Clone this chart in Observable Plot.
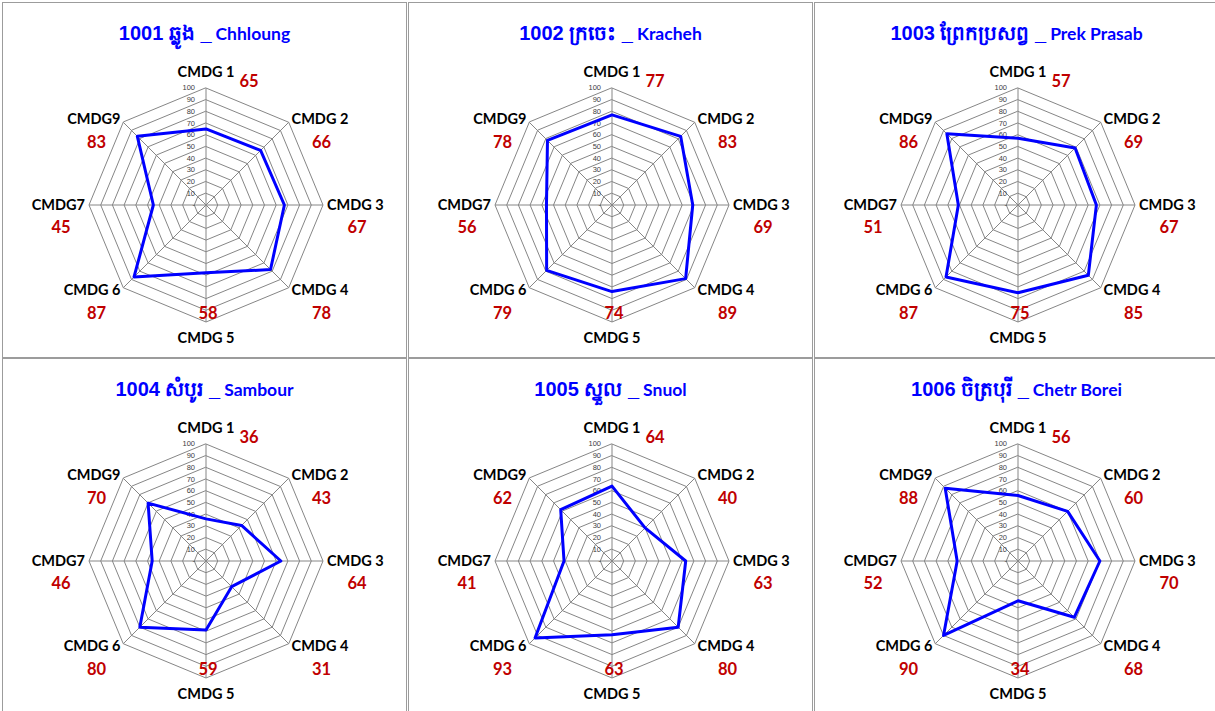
<!DOCTYPE html>
<html><head><meta charset="utf-8">
<script src="https://cdn.jsdelivr.net/npm/d3@7"></script>
<script src="https://cdn.jsdelivr.net/npm/@observablehq/plot@0.6"></script>
<style>
html,body{margin:0;padding:0;background:#fff;width:1215px;height:711px;overflow:hidden;position:relative;}
.panel{position:absolute;box-sizing:border-box;width:405px;height:356px;border:1px solid #9c9c9c;background:#fff;overflow:hidden;}
.title{position:absolute;left:0;right:0;top:19px;line-height:22px;text-align:center;color:#0000ff;font-weight:bold;white-space:nowrap;z-index:2;}
.title .k{font-family:"Liberation Sans",Arial,sans-serif;font-size:20px;}
.title .e{font-family:Lato,"Open Sans",sans-serif;font-size:17.5px;}
.panel svg{position:absolute;left:0;top:0;}
</style></head><body>
<script>
// ---- data ----
const axisNames = ["CMDG 1","CMDG 2","CMDG 3","CMDG 4","CMDG 5","CMDG 6","CMDG7","CMDG9"];
const codes = ["1001","1002","1003","1004","1005","1006"];
const khmerNames = ["ឆ្លូង","ក្រចេះ","ព្រែកប្រសព្វ","សំបូរ","ស្នួល","ចិត្របុរី"];
const latinNames = ["Chhloung","Kracheh","Prek Prasab","Sambour","Snuol","Chetr Borei"];
const chhloung   = [65,66,67,78,58,87,45,83];
const kracheh    = [77,83,69,89,74,79,56,78];
const prekPrasab = [57,69,67,85,75,87,51,86];
const sambour    = [36,43,64,31,59,80,46,70];
const snuol      = [64,40,63,80,63,93,41,62];
const chetrBorei = [56,60,70,68,34,90,52,88];
const tickValues = [0,10,20,30,40,50,60,70,80,90,100];

const seriesList = [chhloung,kracheh,prekPrasab,sambour,snuol,chetrBorei];

// ---- layout ----
const panelLeft = [2,408,814], panelTop = [2,358];
const W = 403, H = 354;           // svg inside 1px border
const cx = 202.5, cy = 201.5;     // radar centre in svg px
const k = 1.17;                   // px per value unit (100 -> 117px)
const n = axisNames.length;

function dir(i){ const a = i*2*Math.PI/n; return {s: Math.sin(a), c: Math.cos(a)}; }
function side(i){ const {s,c}=dir(i); return s>0.1?"right":s<-0.1?"left":c>0?"top":"bottom"; }
function labelPos(i){
  const {s,c}=dir(i); const sd=side(i);
  const r = (sd==="top"||sd==="bottom") ? 133/k : 121/k;
  return {x: r*s, y: r*c};
}
// offsets (px, y pointing up) of the value label from the axis-name anchor
const valueOffsetPx = {top:[43,-10], bottom:[2,24], right:[30,-23], left:[-24,-23]};

const fontLabel = "Lato, 'Open Sans', sans-serif";

seriesList.forEach((vals, p) => {
  const col = p%3, row = Math.floor(p/3);
  const div = document.createElement("div");
  div.className = "panel";
  div.style.left = panelLeft[col]+"px";
  div.style.top = panelTop[row]+"px";
  const t = document.createElement("div");
  t.className = "title";
  t.innerHTML = `<span class="k">${codes[p]} ${khmerNames[p]} _</span> <span class="e">${latinNames[p]}</span>`;
  div.appendChild(t);

  const rings = [];
  tickValues.filter(v=>v>0).forEach(v => axisNames.forEach((a,i)=>{ const {s,c}=dir(i); rings.push({r:v, x:v*s, y:v*c}); }));
  const spokes = axisNames.map((a,i)=>{ const {s,c}=dir(i); return {x:100*s, y:100*c}; });
  const pts = vals.map((v,i)=>{ const {s,c}=dir(i); return {x:v*s, y:v*c}; });
  const labels = axisNames.map((a,i)=>({name:a, value:vals[i], side:side(i), ...labelPos(i)}));
  const vlab = labels.map(d=>({...d, vx: d.x + valueOffsetPx[d.side][0]/k, vy: d.y + valueOffsetPx[d.side][1]/k}));

  const txt = (sd, anchor) => Plot.text(labels.filter(d=>d.side===sd), {
    x:"x", y:"y", text:"name", textAnchor:anchor, lineAnchor:"middle",
    fontFamily:fontLabel, fontWeight:"bold", fontSize:14.5, fill:"#000"
  });

  const svg = Plot.plot({
    width: W, height: H, margin: 0,
    style: {background:"transparent", overflow:"visible"},
    x: {type:"linear", domain:[-cx/k, (W-cx)/k], range:[0,W], axis:null},
    y: {type:"linear", domain:[-(H-cy)/k, cy/k], range:[H,0], axis:null},
    marks: [
      Plot.line(rings, {x:"x", y:"y", z:"r", curve:"linear-closed", stroke:"#868686", strokeWidth:1}),
      Plot.link(spokes, {x1:0, y1:0, x2:"x", y2:"y", stroke:"#868686", strokeWidth:1}),
      Plot.text(tickValues, {x:0, y:d=>d, text:d=>d===0?"-":String(d), textAnchor:"end", dx:-11, lineAnchor:"middle",
        fontFamily:"'Liberation Sans', Arial, sans-serif", fontSize:7.5, fill:"#404040"}),
      Plot.line(pts, {x:"x", y:"y", curve:"linear-closed", stroke:"#0000ff", strokeWidth:3, strokeLinejoin:"round"}),
      txt("top","middle"), txt("bottom","middle"), txt("right","start"), txt("left","end"),
      Plot.text(vlab, {x:"vx", y:"vy", text:d=>String(d.value), textAnchor:"middle", lineAnchor:"middle",
        fontFamily:fontLabel, fontWeight:"bold", fontSize:16.5, fill:"#c00000"})
    ]
  });
  div.appendChild(svg);
  document.body.appendChild(div);
});
</script>
</body></html>
